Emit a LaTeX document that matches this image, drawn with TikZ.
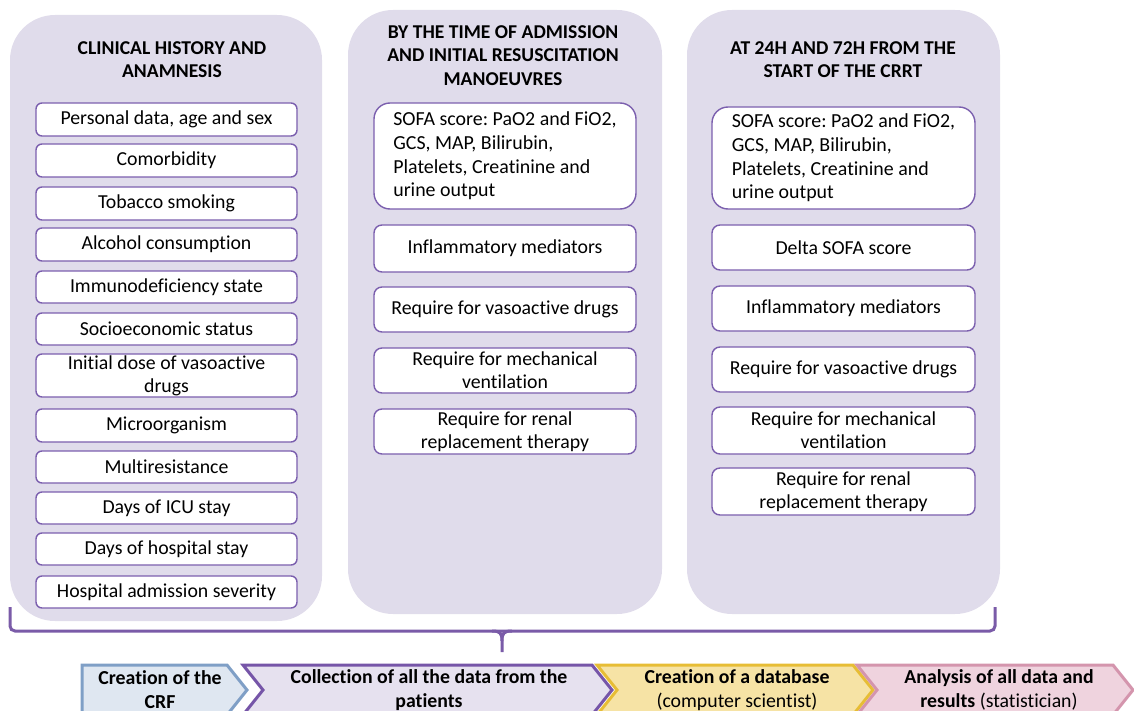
\documentclass[tikz,border=0pt]{standalone}
\usepackage{fontspec}
\setmainfont{Carlito}[RawFeature=-liga]
\frenchspacing
\definecolor{panelfill}{HTML}{E0DCEB}
\definecolor{boxline}{HTML}{7B5FAE}
\definecolor{bracecol}{HTML}{7A5BA8}
\definecolor{bluefill}{HTML}{DFE7F1}
\definecolor{blueline}{HTML}{7F9FC6}
\definecolor{purpfill}{HTML}{E6E1EF}
\definecolor{purpline}{HTML}{7655A8}
\definecolor{yelfill}{HTML}{F6E3A5}
\definecolor{yelline}{HTML}{E7BD35}
\definecolor{pinkfill}{HTML}{EFD3DE}
\definecolor{pinkline}{HTML}{D495AD}
\begin{document}
\begin{tikzpicture}[x=1pt,y=-1pt,
  panel/.style={fill=panelfill, draw=none, rounded corners=45pt},
  paneltitle/.style={font=\fontsize{19.6}{23.5}\selectfont\bfseries, align=center, inner sep=0pt},
  itembox/.style={draw=boxline, line width=1.4pt, fill=white, rounded corners=6pt,
    font=\fontsize{19.8}{23}\selectfont, align=center, inner sep=0pt},
  sofabox/.style={itembox, rounded corners=16pt, align=left,
    font=\fontsize{19.9}{23.7}\selectfont},
  chevron/.style={line width=3pt, line join=miter},
  steptext/.style={font=\fontsize{19.8}{24}\selectfont, align=center, inner sep=0pt},
  bracket/.style={draw=bracecol, line width=3pt}]
\useasboundingbox (0,0) rectangle (1134,711);

% three background panels
\fill[panel] (10,15) rectangle (322,621);
\fill[panel] (348,10) rectangle (662,614);
\fill[panel] (687,10) rectangle (1000,614);

% panel 1: clinical history
\node[paneltitle] (t1) at (172,59.5) {CLINICAL HISTORY AND\\ANAMNESIS};
\node[itembox, minimum width=261pt, minimum height=33pt] (h1) at (166.5,119.5) {Personal data, age and sex};
\node[itembox, minimum width=261pt, minimum height=33pt] (h2) at (166.5,160.5) {Comorbidity};
\node[itembox, minimum width=261pt, minimum height=33pt] (h3) at (166.5,203.5) {Tobacco smoking};
\node[itembox, minimum width=261pt, minimum height=33pt] (h4) at (166.5,244.5) {Alcohol consumption};
\node[itembox, minimum width=261pt, minimum height=32pt] (h5) at (166.5,287) {Immunodeficiency state};
\node[itembox, minimum width=261pt, minimum height=32pt] (h6) at (166.5,329) {Socioeconomic status};
\node[itembox, minimum width=261pt, minimum height=43pt] (h7) at (166.5,375.5) {Initial dose of vasoactive\\drugs};
\node[itembox, minimum width=261pt, minimum height=33pt] (h8) at (166.5,425.5) {Microorganism};
\node[itembox, minimum width=261pt, minimum height=32pt] (h9) at (166.5,467) {Multiresistance};
\node[itembox, minimum width=261pt, minimum height=32pt] (h10) at (166.5,508) {Days of ICU stay};
\node[itembox, minimum width=261pt, minimum height=32pt] (h11) at (166.5,549) {Days of hospital stay};
\node[itembox, minimum width=261pt, minimum height=32pt] (h12) at (166.5,592) {Hospital admission severity};

% panel 2: admission
\node[paneltitle] (t2) at (503,55.5) {BY THE TIME OF ADMISSION\\AND INITIAL RESUSCITATION\\MANOEUVRES};
\node[sofabox, minimum width=262pt, minimum height=106pt] (a1) at (505,156) {SOFA score: PaO2 and FiO2,\\GCS, MAP, Bilirubin,\\Platelets, Creatinine and\\urine output};
\node[itembox, rounded corners=8pt, minimum width=262pt, minimum height=47pt] (a2) at (505,248.5) {Inflammatory mediators};
\node[itembox, rounded corners=8pt, minimum width=262pt, minimum height=45pt] (a3) at (505,309.5) {Require for vasoactive drugs};
\node[itembox, rounded corners=8pt, minimum width=262pt, minimum height=45pt] (a4) at (505,370.5) {Require for mechanical\\ventilation};
\node[itembox, rounded corners=8pt, minimum width=262pt, minimum height=45pt] (a5) at (505,431.5) {Require for renal\\replacement therapy};

% panel 3: 24h and 72h
\node[paneltitle] (t3) at (843,59.5) {AT 24H AND 72H FROM THE\\START OF THE CRRT};
\node[sofabox, minimum width=263pt, minimum height=102pt] (c1) at (843.5,158) {SOFA score: PaO2 and FiO2,\\GCS, MAP, Bilirubin,\\Platelets, Creatinine and\\urine output};
\node[itembox, rounded corners=8pt, minimum width=263pt, minimum height=45pt] (c2) at (843.5,247.5) {Delta SOFA score};
\node[itembox, rounded corners=8pt, minimum width=263pt, minimum height=45pt] (c3) at (843.5,308.5) {Inflammatory mediators};
\node[itembox, rounded corners=8pt, minimum width=263pt, minimum height=45pt] (c4) at (843.5,369.5) {Require for vasoactive drugs};
\node[itembox, rounded corners=8pt, minimum width=263pt, minimum height=47pt] (c5) at (843.5,430.5) {Require for mechanical\\ventilation};
\node[itembox, rounded corners=8pt, minimum width=263pt, minimum height=47pt] (c6) at (843.5,491.5) {Require for renal\\replacement therapy};

% brace gathering the three panels
\draw[bracket, rounded corners=5pt] (10,607) -- (10,631) -- (995,631) -- (995,607);
\draw[bracket] (492,631) .. controls (500,631) and (502,633) .. (502,641) -- (502,652);
\draw[bracket] (512,631) .. controls (504,631) and (502,633) .. (502,641);

% process chevrons
\filldraw[chevron, fill=bluefill, draw=blueline] (82,665) -- (227,665) -- (247,690) -- (227,715) -- (82,715) -- cycle;
\filldraw[chevron, fill=purpfill, draw=purpline] (243,665) -- (592,665) -- (612,690) -- (592,715) -- (243,715) -- (263,690) -- cycle;
\filldraw[chevron, fill=yelfill, draw=yelline] (597,665) -- (853,665) -- (873,690) -- (853,715) -- (597,715) -- (617,690) -- cycle;
\filldraw[chevron, fill=pinkfill, draw=pinkline] (857,665) -- (1113,665) -- (1133,690) -- (1113,715) -- (857,715) -- (877,690) -- cycle;

\node[steptext, font=\fontsize{19.8}{24}\selectfont\bfseries] (s1) at (160,690) {Creation of the\\CRF};
\node[steptext, font=\fontsize{19.8}{24}\selectfont\bfseries] (s2) at (429,690) {Collection of all the data from the\\patients};
\node[steptext] (s3) at (737,690) {\textbf{Creation of a database}\\(computer scientist)};
\node[steptext] (s4) at (999,690) {\textbf{Analysis of all data and}\\\textbf{results} (statistician)};
\end{tikzpicture}
\end{document}
